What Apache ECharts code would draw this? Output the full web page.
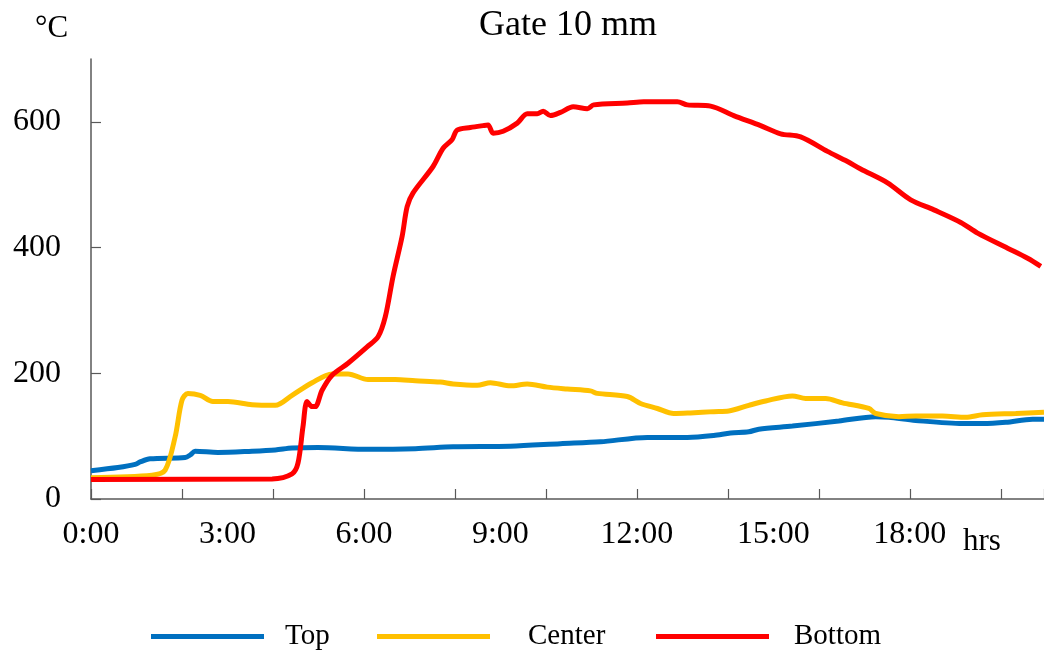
<!DOCTYPE html>
<html>
<head>
<meta charset="utf-8">
<script src="https://cdn.jsdelivr.net/npm/echarts@6/dist/echarts.min.js"></script>
<style>
html,body{margin:0;padding:0;background:#fff;}
#chart{width:1044px;height:657px;}
</style>
</head>
<body>
<div id="chart"></div>
<script>
// ---- Data (hours since start, temperature in °C) ----
const topHours = [0.00,0.59,0.97,1.08,1.30,2.07,2.18,2.29,2.79,3.54,4.05,4.42,4.99,6.09,7.13,7.96,9.22,10.32,11.20,12.23,13.11,13.69,14.06,14.46,14.68,15.42,16.44,17.25,17.54,18.13,19.16,19.60,20.11,20.70,20.95];
const topValues = [45,50,55,59,64,66,70,76,74,76,78,81,82,79,80,83,84,88,91,98,98,101,105,107,111,116,124,131,130,125,120,120,122,127,127];

const centerHours = [0.00,1.34,1.63,1.85,2.00,2.13,2.40,2.68,3.01,3.54,4.05,4.42,4.86,5.30,5.65,6.09,6.69,7.13,7.68,7.96,8.49,8.78,9.22,9.59,10.03,10.47,10.98,11.13,11.79,12.08,12.45,12.81,13.18,13.69,14.02,14.46,14.83,15.42,15.71,16.15,16.52,17.10,17.25,17.76,18.13,18.72,19.23,19.60,20.33,20.95];
const centerValues = [34,38,46,99,157,168,165,155,155,150,149,165,185,199,199,190,190,188,186,183,181,185,180,183,178,175,172,168,163,152,144,136,137,139,140,149,156,164,160,160,153,144,136,131,132,132,130,134,136,138];

const bottomHours = [0.00,3.98,4.42,4.55,4.66,4.75,4.86,4.93,5.08,5.30,5.65,6.07,6.31,6.47,6.64,6.84,6.95,7.08,7.52,7.74,7.94,8.05,8.34,8.62,8.73,8.84,9.06,9.37,9.59,9.81,9.94,10.10,10.32,10.60,10.91,11.05,11.79,12.15,12.89,13.11,13.62,14.13,14.72,15.16,15.60,16.19,16.63,16.92,17.51,18.02,18.53,19.12,19.49,20.15,20.59,20.88];
const bottomValues = [31,32,40,57,115,155,147,147,173,197,216,242,258,290,354,418,465,487,529,558,572,587,591,594,595,582,585,598,613,613,617,610,615,624,621,627,630,632,632,627,625,610,594,581,576,553,537,525,503,476,460,440,423,399,383,370];

const seriesNames = ['Top','Center','Bottom'];
const yTicks = [0,200,400,600];
const xLabelHours = [0,3,6,9,12,15,18];

function zip(h, v){ return h.map((x,i)=>[x, v[i]]); }

const FONT = "'Liberation Serif','DejaVu Serif',serif";
const AXIS_COLOR = '#595959';

const chart = echarts.init(document.getElementById('chart'));
const option = {
  backgroundColor: '#ffffff',
  animation: false,
  title: {
    text: 'Gate 10 mm',
    left: 474, top: 3,
    textStyle: {fontFamily: FONT, fontSize: 36, fontWeight: 'normal', color: '#000'}
  },
  graphic: [
    {type:'text', left: 35, top: 13, style:{text:'°C', font: "31px 'Liberation Serif', serif", fill:'#000'}},
    {type:'text', left: 963, top: 526, style:{text:'hrs', font: "31px 'Liberation Serif', serif", fill:'#000'}}
  ],
  legend: [
    {data:[seriesNames[0]], left:151, top:622, padding:0, icon:'rect', itemWidth:113, itemHeight:5,
     textStyle:{fontFamily:FONT, fontSize:29, color:'#000', padding:[0,0,0,16]}},
    {data:[seriesNames[1]], left:377, top:622, padding:0, icon:'rect', itemWidth:113, itemHeight:5,
     textStyle:{fontFamily:FONT, fontSize:29, color:'#000', padding:[0,0,0,33]}},
    {data:[seriesNames[2]], left:656, top:622, padding:0, icon:'rect', itemWidth:113, itemHeight:5,
     textStyle:{fontFamily:FONT, fontSize:29, color:'#000', padding:[0,0,0,20]}}
  ],
  grid: {left: 91, right: 0, top: 59, bottom: 158, containLabel: false},
  xAxis: [
    {
      type:'value', min:0, max:20.95, interval:2,
      axisLine:{show:true, lineStyle:{color:AXIS_COLOR, width:1.5}},
      axisTick:{show:true, inside:true, length:10, lineStyle:{color:AXIS_COLOR, width:1.2}},
      axisLabel:{show:false},
      splitLine:{show:false}
    },
    {
      type:'value', min:0, max:20.95, interval:3, position:'bottom',
      axisLine:{show:false}, axisTick:{show:false}, splitLine:{show:false},
      axisLabel:{show:true, margin:20, showMaxLabel:false, fontFamily:FONT, fontSize:32, color:'#000',
        formatter: v => xLabelHours.indexOf(v) >= 0 ? v + ':00' : ''}
    }
  ],
  yAxis: {
    type:'value', min:0, max:700, interval:200,
    axisLine:{show:true, lineStyle:{color:AXIS_COLOR, width:1.5}},
    axisTick:{show:true, inside:true, length:10, lineStyle:{color:AXIS_COLOR, width:1.2}},
    axisLabel:{margin:30, showMaxLabel:false, fontFamily:FONT, fontSize:32, color:'#000',
      formatter: v => yTicks.indexOf(v) >= 0 ? String(v) : ''},
    splitLine:{show:false}
  },
  series: [
    {name:seriesNames[0], type:'line', xAxisIndex:0, data: zip(topHours, topValues), showSymbol:false, smooth:0.3,
     lineStyle:{color:'#0070C0', width:5}, itemStyle:{color:'#0070C0'}},
    {name:seriesNames[1], type:'line', xAxisIndex:0, data: zip(centerHours, centerValues), showSymbol:false, smooth:0.3,
     lineStyle:{color:'#FFC000', width:5}, itemStyle:{color:'#FFC000'}},
    {name:seriesNames[2], type:'line', xAxisIndex:0, data: zip(bottomHours, bottomValues), showSymbol:false, smooth:0.3,
     lineStyle:{color:'#FF0000', width:5}, itemStyle:{color:'#FF0000'}}
  ]
};
chart.setOption(option);
</script>
</body>
</html>
